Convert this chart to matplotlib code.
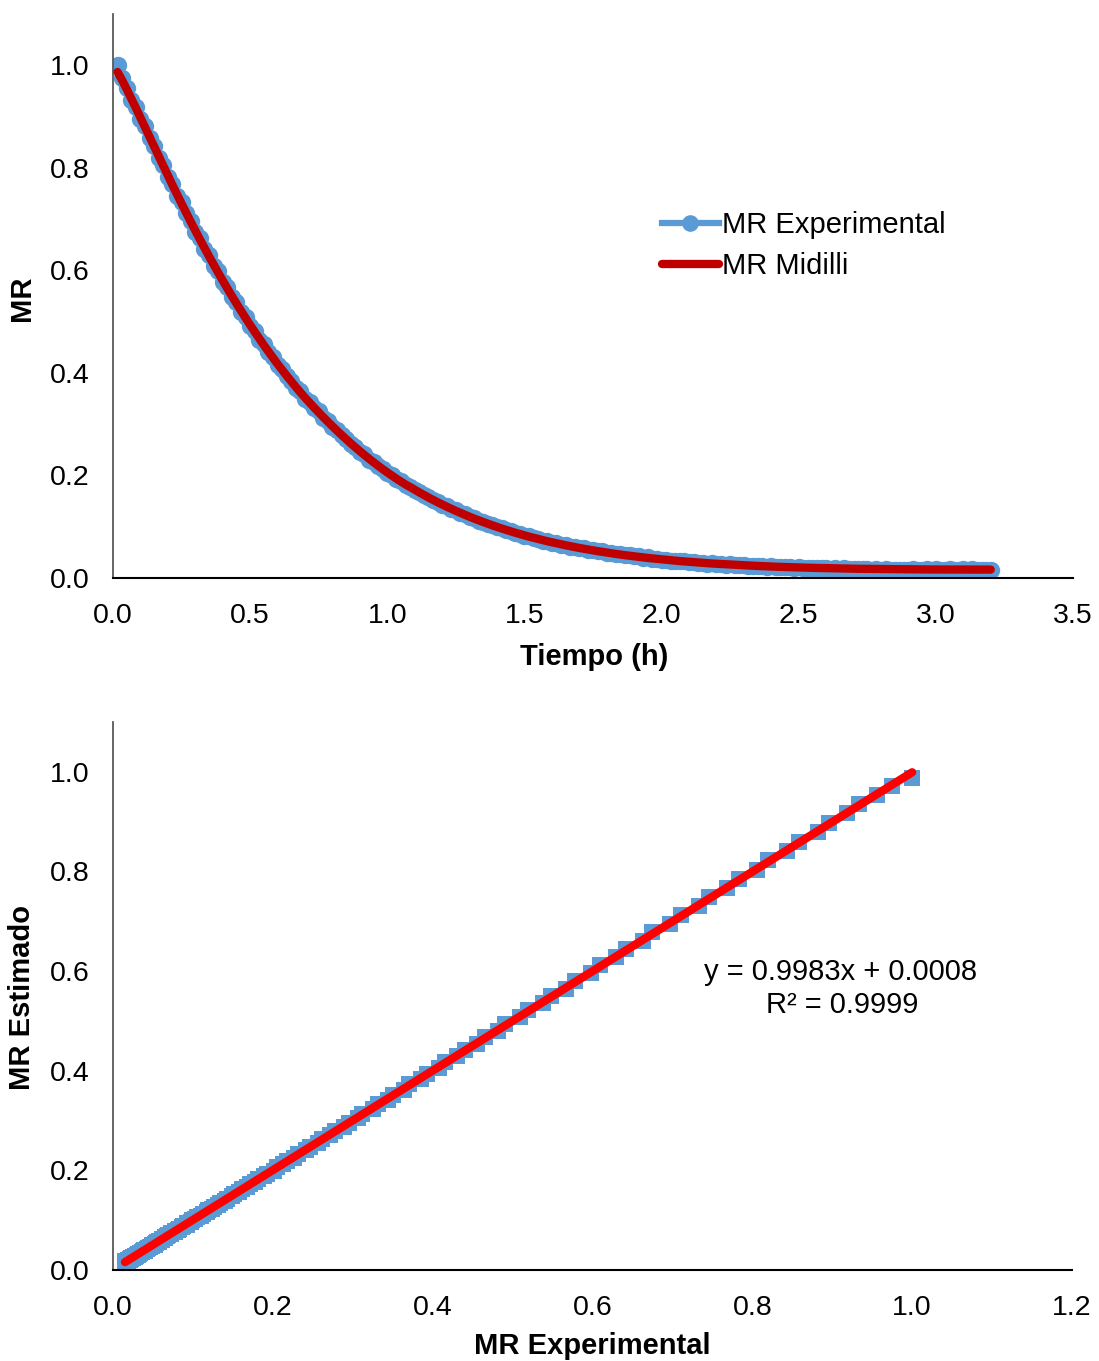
import numpy as np
import matplotlib
matplotlib.use("Agg")
import matplotlib.pyplot as plt
from matplotlib.lines import Line2D

plt.rcParams["font.family"] = ["Liberation Sans", "DejaVu Sans"]

# sampling: one reading per minute, 1..192 min
time_min = np.arange(1, 193)

mr_experimental = [
    1.000, 0.975, 0.956, 0.933, 0.919, 0.896, 0.882, 0.858, 0.843, 0.820,
    0.806, 0.783, 0.768, 0.746, 0.733, 0.711, 0.697, 0.675, 0.663, 0.642,
    0.630, 0.609, 0.598, 0.578, 0.567, 0.548, 0.538, 0.519, 0.509, 0.491,
    0.482, 0.465, 0.456, 0.440, 0.431, 0.416, 0.408, 0.393, 0.385, 0.371,
    0.364, 0.350, 0.344, 0.331, 0.325, 0.312, 0.306, 0.295, 0.289, 0.278,
    0.272, 0.261, 0.256, 0.246, 0.241, 0.231, 0.227, 0.218, 0.213, 0.205,
    0.201, 0.193, 0.189, 0.181, 0.178, 0.171, 0.168, 0.161, 0.158, 0.152,
    0.149, 0.143, 0.140, 0.134, 0.132, 0.126, 0.124, 0.119, 0.117, 0.112,
    0.110, 0.105, 0.103, 0.099, 0.097, 0.093, 0.092, 0.088, 0.086, 0.082,
    0.081, 0.078, 0.077, 0.073, 0.072, 0.069, 0.068, 0.065, 0.065, 0.061,
    0.061, 0.058, 0.058, 0.055, 0.054, 0.052, 0.052, 0.049, 0.049, 0.046,
    0.046, 0.044, 0.044, 0.042, 0.042, 0.039, 0.040, 0.037, 0.038, 0.036,
    0.036, 0.034, 0.034, 0.033, 0.033, 0.031, 0.031, 0.030, 0.030, 0.028,
    0.029, 0.027, 0.028, 0.026, 0.027, 0.025, 0.025, 0.025, 0.024, 0.024,
    0.023, 0.024, 0.022, 0.023, 0.022, 0.021, 0.022, 0.021, 0.020, 0.021,
    0.020, 0.020, 0.019, 0.020, 0.019, 0.020, 0.018, 0.019, 0.018, 0.019,
    0.018, 0.017, 0.018, 0.017, 0.018, 0.016, 0.017, 0.016, 0.017, 0.015,
    0.016, 0.015, 0.016, 0.015, 0.017, 0.015, 0.016, 0.017, 0.016, 0.017,
    0.015, 0.016, 0.017, 0.016, 0.015, 0.017, 0.016, 0.017, 0.016, 0.015,
    0.016, 0.016,
]

mr_midilli = [
    0.9869, 0.9707, 0.9533, 0.9352, 0.9167, 0.8979, 0.8790, 0.8601, 0.8411, 0.8222,
    0.8035, 0.7849, 0.7664, 0.7482, 0.7302, 0.7124, 0.6949, 0.6776, 0.6606, 0.6439,
    0.6275, 0.6114, 0.5956, 0.5801, 0.5649, 0.5500, 0.5354, 0.5211, 0.5071, 0.4934,
    0.4800, 0.4669, 0.4541, 0.4416, 0.4294, 0.4174, 0.4058, 0.3944, 0.3833, 0.3725,
    0.3619, 0.3517, 0.3419, 0.3323, 0.3229, 0.3137, 0.3047, 0.2959, 0.2873, 0.2789,
    0.2707, 0.2627, 0.2549, 0.2473, 0.2399, 0.2327, 0.2257, 0.2189, 0.2123, 0.2059,
    0.1997, 0.1937, 0.1879, 0.1823, 0.1774, 0.1721, 0.1670, 0.1620, 0.1571, 0.1524,
    0.1478, 0.1434, 0.1391, 0.1349, 0.1309, 0.1270, 0.1232, 0.1195, 0.1159, 0.1124,
    0.1091, 0.1058, 0.1027, 0.0996, 0.0966, 0.0938, 0.0910, 0.0883, 0.0857, 0.0832,
    0.0807, 0.0784, 0.0761, 0.0739, 0.0717, 0.0697, 0.0677, 0.0657, 0.0639, 0.0621,
    0.0603, 0.0586, 0.0570, 0.0554, 0.0539, 0.0524, 0.0510, 0.0496, 0.0482, 0.0470,
    0.0457, 0.0445, 0.0434, 0.0422, 0.0412, 0.0401, 0.0391, 0.0382, 0.0372, 0.0363,
    0.0355, 0.0346, 0.0338, 0.0330, 0.0323, 0.0316, 0.0309, 0.0302, 0.0296, 0.0289,
    0.0283, 0.0278, 0.0272, 0.0267, 0.0262, 0.0257, 0.0252, 0.0248, 0.0243, 0.0239,
    0.0235, 0.0231, 0.0228, 0.0224, 0.0221, 0.0217, 0.0214, 0.0211, 0.0209, 0.0206,
    0.0203, 0.0201, 0.0198, 0.0196, 0.0194, 0.0192, 0.0190, 0.0188, 0.0186, 0.0185,
    0.0183, 0.0182, 0.0180, 0.0179, 0.0178, 0.0176, 0.0175, 0.0174, 0.0173, 0.0172,
    0.0171, 0.0170, 0.0170, 0.0169, 0.0168, 0.0168, 0.0167, 0.0167, 0.0166, 0.0166,
    0.0165, 0.0165, 0.0165, 0.0164, 0.0164, 0.0164, 0.0164, 0.0164, 0.0164, 0.0164,
    0.0164, 0.0164,
]

# trendline shown on the parity plot
trend_slope = 0.9983
trend_intercept = 0.0008
trend_r2 = 0.9999

top_xticks = [0.0, 0.5, 1.0, 1.5, 2.0, 2.5, 3.0, 3.5]
top_yticks = [0.0, 0.2, 0.4, 0.6, 0.8, 1.0]
bot_xticks = [0.0, 0.2, 0.4, 0.6, 0.8, 1.0, 1.2]
bot_yticks = [0.0, 0.2, 0.4, 0.6, 0.8, 1.0]

BLUE = "#5B9BD5"
DARK_RED = "#C00000"
RED = "#FF0000"
TICK_FS = 20.5
LABEL_FS = 21
W, H = 1099, 1361

time_h = time_min / 60
mr_exp = np.array(mr_experimental)
mr_mid = np.array(mr_midilli)


def px_axes(left, top, right, bottom):
    return [left / W, 1 - bottom / H, (right - left) / W, (bottom - top) / H]


def style_axes(ax, xticks, yticks):
    for side in ("top", "right"):
        ax.spines[side].set_visible(False)
    ax.spines["left"].set_color("#595959")
    ax.spines["left"].set_linewidth(1.3)
    ax.spines["bottom"].set_color("#000000")
    ax.spines["bottom"].set_linewidth(1.5)
    ax.set_xticks(xticks)
    ax.set_yticks(yticks)
    ax.set_xticklabels([f"{v:.1f}" for v in xticks])
    ax.set_yticklabels([f"{v:.1f}" for v in yticks])
    ax.tick_params(axis="x", length=0, pad=18, labelsize=TICK_FS)
    ax.tick_params(axis="y", length=0, pad=17, labelsize=TICK_FS)


fig = plt.figure(figsize=(W / 100, H / 100), dpi=100)

# ---- drying curve ----
ax1 = fig.add_axes(px_axes(113, 14, 1073, 578))
ax1.plot(time_h, mr_exp, color=BLUE, lw=5.5, marker="o", ms=12.5,
         markeredgewidth=0, label="MR Experimental", zorder=2)
ax1.plot(time_h, mr_mid, color=DARK_RED, lw=6, solid_capstyle="round",
         label="MR Midilli", zorder=3)
ax1.set_xlim(0, 3.5)
ax1.set_ylim(0, 1.1)
style_axes(ax1, top_xticks, top_yticks)

handles = [
    Line2D([], [], color=BLUE, lw=4.5, marker="o", ms=12, markeredgewidth=0),
    Line2D([], [], color=DARK_RED, lw=6, solid_capstyle="round"),
]
ax1.legend(handles, ["MR Experimental", "MR Midilli"], loc="upper left",
           bbox_to_anchor=((662 - 113) / 960, (578 - 211) / 564),
           frameon=False, fontsize=LABEL_FS, handlelength=1.95,
           handletextpad=0.1, labelspacing=0.45, borderpad=0,
           borderaxespad=0, numpoints=1)

fig.text(594 / W, 1 - 657 / H, "Tiempo (h)", ha="center", va="center",
         fontsize=LABEL_FS, fontweight="bold")
fig.text(22 / W, 1 - 298 / H, "MR", ha="center", va="center",
         rotation=90, fontsize=LABEL_FS, fontweight="bold")

# ---- parity plot ----
ax2 = fig.add_axes(px_axes(113, 722, 1072, 1270))
ax2.plot(mr_exp, mr_mid, linestyle="none", marker="s", ms=11.5,
         markeredgewidth=0, color=BLUE, zorder=2)
x_fit = np.array([mr_exp.min(), mr_exp.max()])
ax2.plot(x_fit, trend_slope * x_fit + trend_intercept, color=RED, lw=6,
         solid_capstyle="round", zorder=3)
ax2.set_xlim(0, 1.2)
ax2.set_ylim(0, 1.1)
style_axes(ax2, bot_xticks, bot_yticks)

fig.text(841 / W, 1 - 972 / H,
         f"y = {trend_slope:.4f}x + {trend_intercept:.4f}",
         ha="center", va="center", fontsize=LABEL_FS)
fig.text(842 / W, 1 - 1005 / H, f"R² = {trend_r2:.4f}",
         ha="center", va="center", fontsize=LABEL_FS)

fig.text(592 / W, 1 - 1346 / H, "MR Experimental", ha="center", va="center",
         fontsize=LABEL_FS, fontweight="bold")
fig.text(22 / W, 1 - 997 / H, "MR Estimado", ha="center", va="center",
         rotation=90, fontsize=LABEL_FS, fontweight="bold")

fig.savefig("out.png", dpi=100)
plt.close(fig)
